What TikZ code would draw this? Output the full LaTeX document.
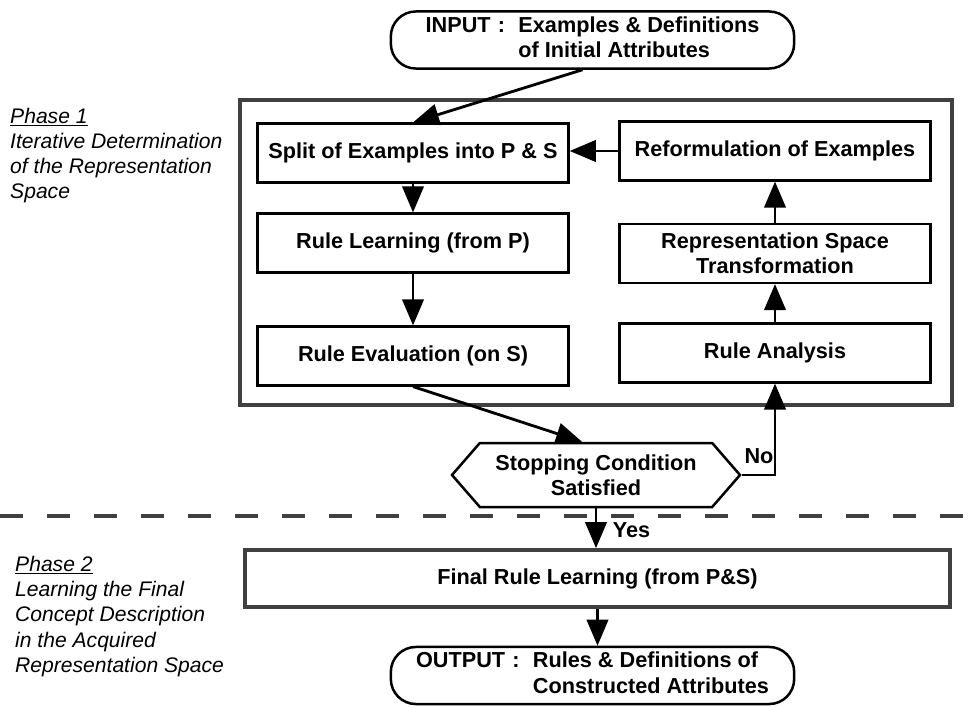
\documentclass[tikz,border=0pt]{standalone}
\usepackage{fontspec}
\setmainfont{Liberation Sans}
\usetikzlibrary{arrows.meta,shapes.symbols}

\tikzset{box/.style={draw,line width=0.075cm,fill=white,font=\bfseries\fontsize{18.5}{21.5}\selectfont,align=center,minimum width=9.33cm,minimum height=1.76cm,inner sep=0.1cm},
term/.style={box,rounded corners=0.75cm,minimum width=12.1cm,minimum height=1.66cm},
stopbox/.style={box,shape=signal,signal to=west and east,signal pointer angle=98,minimum width=8.64cm,minimum height=1.92cm},
finalbox/.style={box,draw=black!75,line width=0.11cm,minimum width=21.15cm,minimum height=1.71cm},
frame/.style={draw=black!75,line width=0.11cm},
separator/.style={draw=black!75,line width=0.1cm,dash pattern=on 0.69cm off 0.72cm},
flow/.style={line width=0.085cm,-{Triangle[length=0.78cm,width=0.64cm]}},
phase/.style={font=\itshape\fontsize{18}{21.5}\selectfont,align=left,anchor=north west,inner sep=0cm},
answer/.style={font=\bfseries\fontsize{18.5}{21.5}\selectfont,inner sep=0.05cm}}

\begin{document}
\begin{tikzpicture}
\useasboundingbox (0,0) rectangle (29.190,21.180);

%% Coordinates of nodes.
\coordinate (cInput) at (17.775,19.980);
\coordinate (cSplit) at (12.390,16.590);
\coordinate (cReform) at (23.250,16.650);
\coordinate (cLearning) at (12.390,13.890);
\coordinate (cSpace) at (23.250,13.575);
\coordinate (cEvaluation) at (12.390,10.500);
\coordinate (cAnalysis) at (23.250,10.590);
\coordinate (cStop) at (17.880,6.930);
\coordinate (cFinal) at (17.925,3.825);
\coordinate (cOutput) at (17.775,0.915);
\coordinate (sepL) at (0.000,5.700);
\coordinate (sepR) at (29.190,5.700);

%% phase 1 frame
\draw [frame] (7.200,9.030) rectangle (28.560,18.180);

%% separator
\draw [separator] (sepL) -- (sepR);

%% boxes
\node [term] (input) at (cInput) {\begin{tabular}{@{}l@{\hspace{0.4cm}}l@{}}INPUT\,\,: & Examples \& Definitions\\ & of Initial Attributes\end{tabular}};
\node [box] (split) at (cSplit) {Split of Examples into P \& S};
\node [box] (reform) at (cReform) {Reformulation of Examples};
\node [box] (learning) at (cLearning) {Rule Learning (from P)};
\node [box] (space) at (cSpace) {Representation Space\\Transformation};
\node [box] (evaluation) at (cEvaluation) {Rule Evaluation (on S)};
\node [box] (analysis) at (cAnalysis) {Rule Analysis};
\node [stopbox] (stop) at (cStop) {Stopping Condition\\Satisfied};
\node [finalbox] (final) at (cFinal) {Final Rule Learning (from P\&S)};
\node [term] (output) at (cOutput) {\begin{tabular}{@{}l@{\hspace{0.4cm}}l@{}}OUTPUT\,\,: & Rules \& Definitions of\\ & Constructed Attributes\end{tabular}};

%% arrows
\draw [flow] ([xshift=-0.3cm]input.south) -- (split.north);
\draw [flow] (split.south) -- (learning.north);
\draw [flow] (learning.south) -- (evaluation.north);
\draw [flow] (evaluation.south) -- ([xshift=-0.42cm]stop.north);
\draw [flow] (stop.east) -| (analysis.south);
\draw [flow] (analysis.north) -- (space.south);
\draw [flow] (space.north) -- (reform.south);
\draw [flow] (reform.west) -- (reform.west -| split.east);
\draw [flow] (stop.south) -- (stop.south |- final.north);
\draw [flow] (final.south) -- (final.south |- output.north);

%% answer labels
\node [answer,anchor=south west] (no) at ([xshift=0.03cm,yshift=0.29cm]stop.east) {No};
\node [answer,anchor=west] (yes) at ([xshift=0.45cm,yshift=-0.65cm]stop.south) {Yes};

%% phase labels
\node [phase] (phase1) at (0.300,17.950) {\underline{Phase 1}\\Iterative Determination\\of the Representation\\Space};
\node [phase] (phase2) at (0.450,4.500) {\underline{Phase 2}\\Learning the Final\\Concept Description\\in the Acquired\\Representation Space};

\end{tikzpicture}
\end{document}
